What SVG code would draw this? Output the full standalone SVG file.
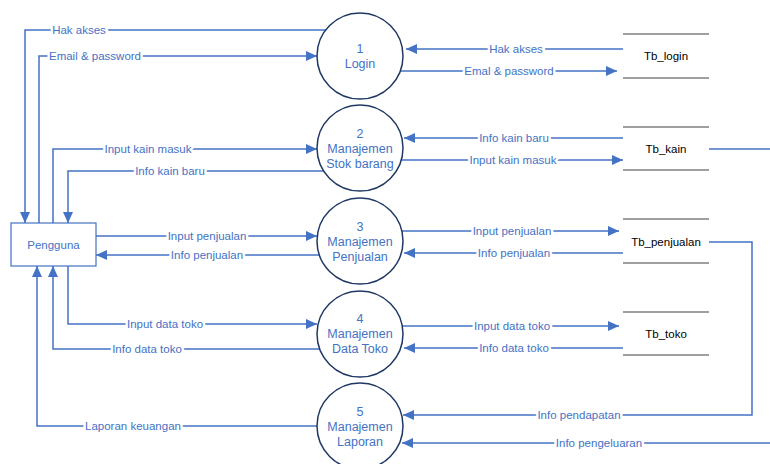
<svg xmlns="http://www.w3.org/2000/svg" width="770" height="464" viewBox="0 0 770 464">
<defs>
<marker id="ah" markerUnits="userSpaceOnUse" markerWidth="12" markerHeight="10" refX="11" refY="5" orient="auto">
<path d="M0,0 L11,5 L0,10 Z" fill="#4472C4"/>
</marker>
<style>
.c{fill:none;stroke:#4472C4;stroke-width:1.5}
.a{marker-end:url(#ah)}
.l{font-family:"Liberation Sans",Arial,sans-serif;font-size:11.5px;fill:#4472C4;text-anchor:middle;dominant-baseline:central;paint-order:stroke;stroke:#fff;stroke-width:5px}
.p{fill:#fff;stroke:#1F3864;stroke-width:1.5}
.pt{font-family:"Liberation Sans",Arial,sans-serif;font-size:12.5px;fill:#4472C4;text-anchor:middle;dominant-baseline:central}
.ds{stroke:#404040;stroke-width:1.2}
.dt{font-family:"Liberation Sans",Arial,sans-serif;font-size:11.5px;fill:#000;text-anchor:middle;dominant-baseline:central}
</style>
</defs>
<rect width="770" height="464" fill="#fff"/>
<g id="connectors">
<path class="c a" d="M326,30 H25 V223"/>
<path class="c a" d="M39,223 V56 H317"/>
<path class="c a" d="M53,223 V149 H317"/>
<path class="c a" d="M324,171 H68 V223"/>
<path class="c a" d="M96,236 H317"/>
<path class="c a" d="M319,255 H96"/>
<path class="c a" d="M68,266 V324 H317"/>
<path class="c a" d="M320,349 H53 V266"/>
<path class="c a" d="M317,426 H37 V266"/>
<path class="c a" d="M623,49 H406"/>
<path class="c a" d="M400,71 H617"/>
<path class="c a" d="M623,138 H404"/>
<path class="c a" d="M400,160 H623"/>
<path class="c" d="M709,149 H770"/>
<path class="c a" d="M401,231 H619"/>
<path class="c a" d="M623,253 H404"/>
<path class="c a" d="M709,242 H752 V415 H403"/>
<path class="c a" d="M402,326 H619"/>
<path class="c a" d="M623,348 H404"/>
<path class="c a" d="M770,443 H402"/>
<text class="l" x="79" y="30">Hak akses</text>
<text class="l" x="95" y="56">Email &amp; password</text>
<text class="l" x="148" y="149">Input kain masuk</text>
<text class="l" x="170" y="171">Info kain baru</text>
<text class="l" x="207" y="236">Input penjualan</text>
<text class="l" x="207" y="255">Info penjualan</text>
<text class="l" x="165" y="324">Input data toko</text>
<text class="l" x="147" y="349">Info data toko</text>
<text class="l" x="133" y="426">Laporan keuangan</text>
<text class="l" x="516" y="49">Hak akses</text>
<text class="l" x="509" y="71">Emal &amp; password</text>
<text class="l" x="514" y="138">Info kain baru</text>
<text class="l" x="513" y="160">Input kain masuk</text>
<text class="l" x="512" y="231">Input penjualan</text>
<text class="l" x="514" y="253">Info penjualan</text>
<text class="l" x="512" y="326">Input data toko</text>
<text class="l" x="514" y="348">Info data toko</text>
<text class="l" x="579" y="415">Info pendapatan</text>
<text class="l" x="599" y="443">Info pengeluaran</text>
</g>
<g id="pengguna">
<rect x="11" y="223" width="85" height="43" fill="#fff" stroke="#4472C4" stroke-width="1.2"/>
<text class="pt" x="53.5" y="245" style="font-size:11.5px">Pengguna</text>
</g>
<g id="p1">
<circle class="p" cx="360" cy="56" r="43"/>
<text class="pt" x="360" y="49">1</text>
<text class="pt" x="360" y="64">Login</text>
</g>
<g id="p2">
<circle class="p" cx="360" cy="148" r="43"/>
<text class="pt" x="360" y="134">2</text>
<text class="pt" x="360" y="149">Manajemen</text>
<text class="pt" x="360" y="164">Stok barang</text>
</g>
<g id="p3">
<circle class="p" cx="360" cy="241" r="43"/>
<text class="pt" x="360" y="227">3</text>
<text class="pt" x="360" y="242">Manajemen</text>
<text class="pt" x="360" y="257">Penjualan</text>
</g>
<g id="p4">
<circle class="p" cx="360" cy="334" r="43"/>
<text class="pt" x="360" y="319">4</text>
<text class="pt" x="360" y="334">Manajemen</text>
<text class="pt" x="360" y="349">Data Toko</text>
</g>
<g id="p5">
<circle class="p" cx="360" cy="426" r="43"/>
<text class="pt" x="360" y="412">5</text>
<text class="pt" x="360" y="427">Manajemen</text>
<text class="pt" x="360" y="442">Laporan</text>
</g>
<g id="tb_login">
<line class="ds" x1="623" y1="34" x2="709" y2="34"/>
<line class="ds" x1="623" y1="78" x2="709" y2="78"/>
<text class="dt" x="666" y="56">Tb_login</text>
</g>
<g id="tb_kain">
<line class="ds" x1="623" y1="127" x2="709" y2="127"/>
<line class="ds" x1="623" y1="170" x2="709" y2="170"/>
<text class="dt" x="666" y="149">Tb_kain</text>
</g>
<g id="tb_penjualan">
<line class="ds" x1="623" y1="219" x2="709" y2="219"/>
<line class="ds" x1="623" y1="263" x2="709" y2="263"/>
<text class="dt" x="666" y="242">Tb_penjualan</text>
</g>
<g id="tb_toko">
<line class="ds" x1="623" y1="312" x2="709" y2="312"/>
<line class="ds" x1="623" y1="355" x2="709" y2="355"/>
<text class="dt" x="666" y="334">Tb_toko</text>
</g>
</svg>
